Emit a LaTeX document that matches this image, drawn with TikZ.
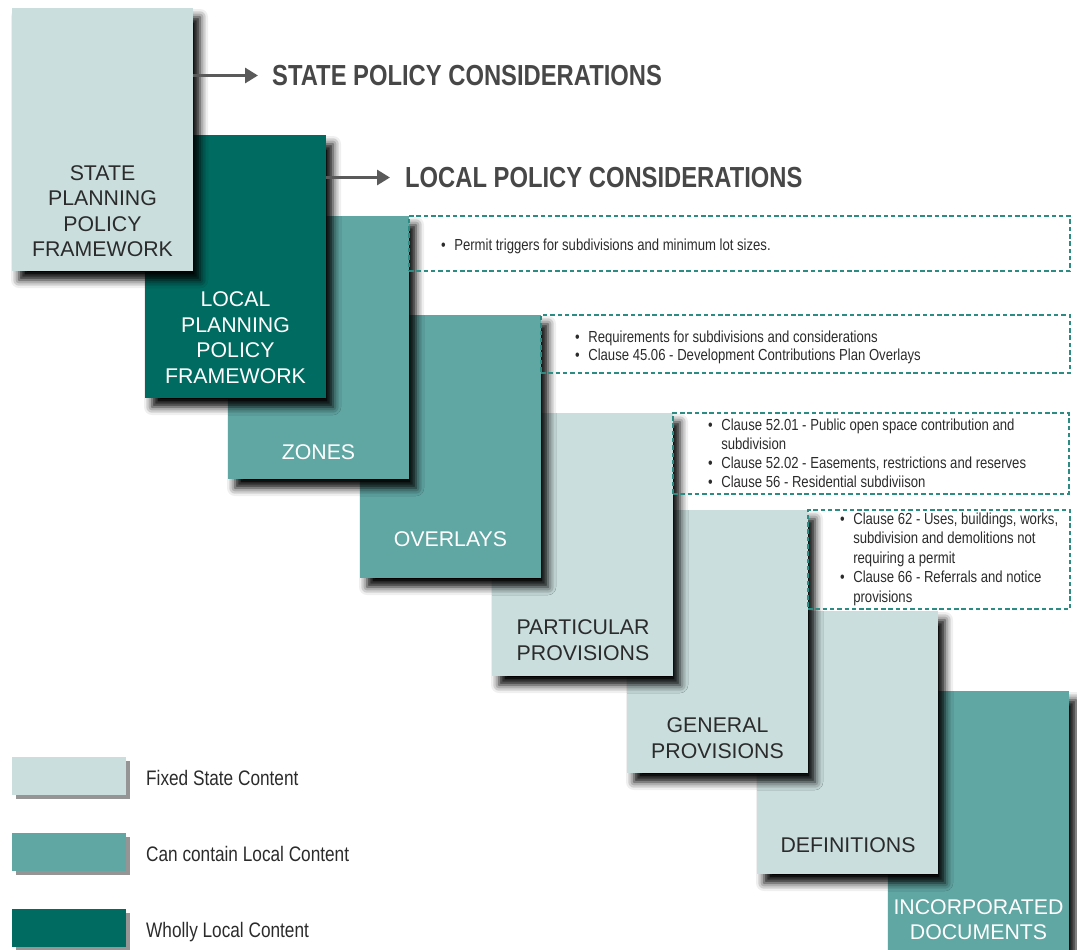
\documentclass[tikz,border=0pt]{standalone}
\usepackage{fontspec}
\setmainfont{Liberation Sans}
\newfontfamily\narrowfont[FakeStretch=0.82]{Liberation Sans}
\usetikzlibrary{shadows,shadows.blur,arrows.meta}

\definecolor{fixedc}{HTML}{C9DEDD}
\definecolor{localc}{HTML}{60A6A3}
\definecolor{wholec}{HTML}{006B61}
\definecolor{dashc}{HTML}{2C8C84}
\definecolor{headgray}{HTML}{474747}
\definecolor{arrowgray}{HTML}{5A5A5A}
\definecolor{bodygray}{HTML}{2B2B2B}
\definecolor{swatchshadow}{HTML}{959595}

\tikzset{
  panel/.style={anchor=north west, minimum width=181pt, minimum height=263pt,
    inner sep=0pt, outer sep=0pt,
    blur shadow={shadow xshift=7pt, shadow yshift=-9pt,
      shadow blur radius=8pt, shadow opacity=100}},
  fixedpanel/.style={panel, fill=fixedc},
  localpanel/.style={panel, fill=localc},
  wholepanel/.style={panel, fill=wholec},
  paneltext/.style={align=center, inner sep=0pt,
    font=\fontsize{21.3}{25.5}\selectfont},
  darktext/.style={paneltext, text=bodygray},
  lighttext/.style={paneltext, text=white},
  notebox/.style={anchor=north west, draw=dashc, line width=1.4pt,
    dash pattern=on 4.5pt off 2.8pt, inner sep=0pt, outer sep=0pt},
  notetext/.style={anchor=base west, inner sep=0pt, text=bodygray},
  headtext/.style={anchor=west, inner sep=0pt, text=headgray,
    font=\narrowfont\bfseries\fontsize{29}{34}\selectfont},
  policyarrow/.style={draw=arrowgray, line width=3pt,
    -{Triangle[length=13pt,width=15pt]}},
  swatch/.style={anchor=north west, minimum width=114pt, minimum height=38pt,
    inner sep=0pt, outer sep=0pt,
    general shadow={fill=swatchshadow, shadow xshift=4pt, shadow yshift=-4pt}},
  legendtext/.style={anchor=base west, inner sep=0pt, text=bodygray,
    font=\narrowfont\fontsize{21}{25}\selectfont}
}

\newcommand{\notelines}[2]{%
  \narrowfont\fontsize{16}{#1}\selectfont
  \begin{tabular}[t]{@{}l@{\hspace{8.5pt}}l@{}}#2\end{tabular}}

\begin{document}
\begin{tikzpicture}[x=1pt,y=-1pt]
  \useasboundingbox (0,0) rectangle (1077,950);
  \clip (0,0) rectangle (1077,950);

  % stair of panels, back to front
  \node[localpanel] (incdocs) at (888,691) {};
  \node[fixedpanel] (defs) at (757,611) {};
  \node[fixedpanel] (general) at (627,510) {};
  \node[fixedpanel] (particular) at (492,413) {};
  \node[localpanel] (overlays) at (360,315) {};
  \node[localpanel] (zones) at (228,216) {};
  \node[wholepanel] (local) at (145,135) {};
  \node[fixedpanel] (state) at (12,8) {};

  % dashed note frames beside the panels
  \node[notebox, minimum width=661pt, minimum height=55pt] (zonesnote) at (zones.north east) {};
  \node[notebox, minimum width=529pt, minimum height=58pt] (overlaysnote) at (overlays.north east) {};
  \node[notebox, minimum width=396pt, minimum height=81pt] (particularnote) at (particular.north east) {};
  \node[notebox, minimum width=262pt, minimum height=99pt] (generalnote) at (general.north east) {};

  % note contents
  \node[notetext] (zonestxt) at (441,250) {\notelines{19}{%
    \textbullet & Permit triggers for subdivisions and minimum lot sizes.}};
  \node[notetext] (overlaystxt) at (575,342) {\notelines{18}{%
    \textbullet & Requirements for subdivisions and considerations\\
    \textbullet & Clause 45.06 - Development Contributions Plan Overlays}};
  \node[notetext] (particulartxt) at (708,430) {\notelines{19}{%
    \textbullet & Clause 52.01 - Public open space contribution and\\
                & subdivision\\
    \textbullet & Clause 52.02 - Easements, restrictions and reserves\\
    \textbullet & Clause 56 - Residential subdiviison}};
  \node[notetext] (generaltxt) at (840,524) {\notelines{19.5}{%
    \textbullet & Clause 62 - Uses, buildings, works,\\
                & subdivision and demolitions not\\
                & requiring a permit\\
    \textbullet & Clause 66 - Referrals and notice\\
                & provisions}};

  % panel titles
  \node[darktext] (statelbl) at (102.5,211) {STATE\\PLANNING\\POLICY\\FRAMEWORK};
  \node[lighttext] (locallbl) at (235.5,337.5) {LOCAL\\PLANNING\\POLICY\\FRAMEWORK};
  \node[lighttext] (zoneslbl) at (318.5,452) {ZONES};
  \node[lighttext] (overlayslbl) at (450.5,539) {OVERLAYS};
  \node[darktext] (particularlbl) at (583,640) {PARTICULAR\\PROVISIONS};
  \node[darktext] (generallbl) at (717.5,738) {GENERAL\\PROVISIONS};
  \node[darktext] (defslbl) at (848,845) {DEFINITIONS};
  \node[lighttext] (incdocslbl) at (978.5,919.5) {INCORPORATED\\DOCUMENTS};

  % policy headings with their arrows
  \node[headtext] (statehead) at (272,75.5) {STATE POLICY CONSIDERATIONS};
  \node[headtext] (localhead) at (405,177.5) {LOCAL POLICY CONSIDERATIONS};
  \draw[policyarrow] (state.east |- statehead.west) -- ([xshift=-14pt]statehead.west);
  \draw[policyarrow] (local.east |- localhead.west) -- ([xshift=-15pt]localhead.west);

  % legend
  \node[swatch, fill=fixedc] (keyfixed) at (12,757) {};
  \node[swatch, fill=localc] (keylocal) at (12,833) {};
  \node[swatch, fill=wholec] (keywhole) at (12,909) {};
  \node[legendtext] (keyfixedtxt) at (146,785) {Fixed State Content};
  \node[legendtext] (keylocaltxt) at (146,861) {Can contain Local Content};
  \node[legendtext] (keywholetxt) at (146,937) {Wholly Local Content};
\end{tikzpicture}
\end{document}
